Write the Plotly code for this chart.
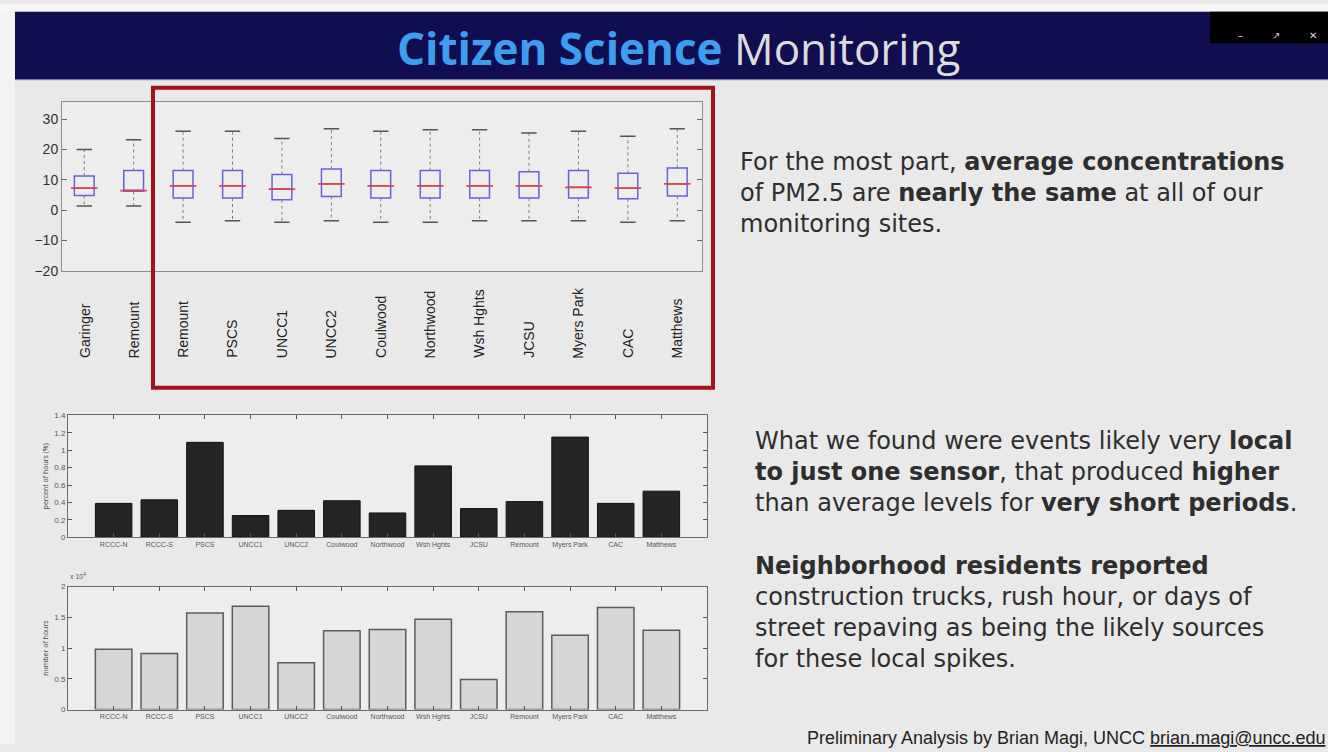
import plotly.graph_objects as go

W, H = 1328, 752

# ---------------- data ----------------
box_sites = ["Garinger", "Remount", "Remount", "PSCS", "UNCC1", "UNCC2", "Coulwood",
             "Northwood", "Wsh Hghts", "JCSU", "Myers Park", "CAC", "Matthews"]
box_upper = [20.0, 23.2, 26.0, 26.0, 23.6, 26.8, 26.0, 26.5, 26.5, 25.4, 26.0, 24.3, 26.8]
box_q3 = [11.2, 13.0, 13.0, 13.0, 11.7, 13.5, 13.0, 13.0, 13.0, 12.6, 13.0, 12.1, 13.9]
box_median = [7.2, 6.4, 8.0, 8.0, 6.9, 8.6, 8.0, 8.0, 8.0, 8.0, 7.5, 7.2, 8.6]
box_q1 = [4.8, 6.2, 4.0, 4.0, 3.4, 4.5, 4.0, 4.0, 4.0, 4.0, 4.0, 3.7, 4.6]
box_lower = [1.3, 1.3, -4.0, -3.5, -4.0, -3.5, -4.0, -4.0, -3.5, -3.5, -3.5, -4.0, -3.5]
box_yticks = [-20, -10, 0, 10, 20, 30]

bar_sites = ["RCCC-N", "RCCC-S", "PSCS", "UNCC1", "UNCC2", "Coulwood", "Northwood",
             "Wsh Hghts", "JCSU", "Remount", "Myers Park", "CAC", "Matthews"]
pct_hours = [0.39, 0.43, 1.09, 0.25, 0.31, 0.42, 0.28, 0.82, 0.33, 0.41, 1.15, 0.39, 0.53]
num_hours_e4 = [0.98, 0.91, 1.57, 1.68, 0.76, 1.28, 1.30, 1.47, 0.49, 1.59, 1.21, 1.66, 1.29]

title_bold = "Citizen Science"
title_rest = "Monitoring"
text_top = ("For the most part, <b>average concentrations</b><br>"
            "of PM2.5 are <b>nearly the same</b> at all of our<br>"
            "monitoring sites.")
text_bottom = ("What we found were events likely very <b>local</b><br>"
               "<b>to just one sensor</b>, that produced <b>higher</b><br>"
               "than average levels for <b>very short periods</b>.<br><br>"
               "<b>Neighborhood residents reported</b><br>"
               "construction trucks, rush hour, or days of<br>"
               "street repaving as being the likely sources<br>"
               "for these local spikes.")
footer = "Preliminary Analysis by Brian Magi, UNCC <u>brian.magi@uncc.edu</u>"


def px_x(p):
    return p / W


def px_y(p):
    return 1 - p / H


fig = go.Figure()

# ---------------- box plot ----------------
bidx = list(range(len(box_sites)))
wx, wy = [], []
for i in bidx:
    wx += [i, i, None, i, i, None]
    wy += [box_q3[i], box_upper[i], None, box_q1[i], box_lower[i], None]
fig.add_trace(go.Scatter(x=wx, y=wy, mode="lines", xaxis="x", yaxis="y",
                         line=dict(color="#7c7c7c", width=1, dash="dot"), hoverinfo="skip"))
fig.add_trace(go.Scatter(x=bidx + bidx, y=box_upper + box_lower, mode="markers", xaxis="x", yaxis="y",
                         marker=dict(symbol="line-ew", size=11, color="#555",
                                     line=dict(color="#555", width=1.5)), hoverinfo="skip"))
fig.add_trace(go.Box(x=bidx, q1=box_q1, median=box_median, q3=box_q3,
                     lowerfence=box_q1, upperfence=box_q3, width=0.4, whiskerwidth=0,
                     line=dict(color="#6464d8", width=1.5), fillcolor="rgba(0,0,0,0)",
                     xaxis="x", yaxis="y", hoverinfo="skip"))
fig.add_trace(go.Scatter(x=bidx, y=box_median, mode="markers", xaxis="x", yaxis="y",
                         marker=dict(symbol="line-ew", size=19, color="#e04444",
                                     line=dict(color="#e04444", width=1.8)), hoverinfo="skip"))

# ---------------- bar charts ----------------
ridx = list(range(len(bar_sites)))
fig.add_trace(go.Bar(x=ridx, y=pct_hours, width=0.8, xaxis="x2", yaxis="y2",
                     marker=dict(color="#242424", line=dict(color="#111", width=1))))
fig.add_trace(go.Bar(x=ridx, y=num_hours_e4, width=0.8, xaxis="x3", yaxis="y3",
                     marker=dict(color="#d6d6d6", line=dict(color="#5c5c5c", width=1.5))))

small_axis = dict(showline=True, mirror="ticks", linecolor="#6a6a6a", linewidth=1,
                  ticks="inside", ticklen=4, tickcolor="#555", showgrid=False, zeroline=False,
                  tickfont=dict(family="Liberation Sans", size=7, color="#555"))
small_y = {k: v for k, v in small_axis.items() if k != "tickfont"}

fig.update_layout(
    width=W, height=H, margin=dict(l=0, r=0, t=0, b=0),
    paper_bgcolor="#e9e9e9", plot_bgcolor="#ededed", showlegend=False,
    xaxis=dict(domain=[px_x(62), px_x(702)], range=[-0.45, 12.5], anchor="y",
               showticklabels=False, ticks="", showline=True, mirror=True,
               linecolor="#8c8c8c", showgrid=False, zeroline=False),
    yaxis=dict(domain=[px_y(271), px_y(100)], range=[-20, 35.5], anchor="x",
               tickvals=box_yticks, ticks="inside", ticklen=5, tickcolor="#666",
               showline=True, mirror="ticks", linecolor="#8c8c8c", showgrid=False, zeroline=False,
               tickfont=dict(family="Liberation Sans", size=14, color="#333")),
    xaxis2=dict(domain=[px_x(68), px_x(707)], range=[-1, 13], anchor="y2",
                tickvals=ridx, ticktext=bar_sites, **small_axis),
    yaxis2=dict(domain=[px_y(542), px_y(418)], range=[0, 1.4], dtick=0.2, anchor="x2",
                title=dict(text="percent of hours (%)", font=dict(size=7, color="#444"), standoff=4),
                tickfont=dict(family="Liberation Sans", size=8, color="#555"), **small_y),
    xaxis3=dict(domain=[px_x(68), px_x(707)], range=[-1, 13], anchor="y3",
                tickvals=ridx, ticktext=bar_sites, **small_axis),
    yaxis3=dict(domain=[px_y(717), px_y(592)], range=[0, 2], dtick=0.5, anchor="x3",
                title=dict(text="number of hours", font=dict(size=7, color="#444"), standoff=4),
                tickfont=dict(family="Liberation Sans", size=8, color="#555"), **small_y),
)

shapes = [
    dict(type="rect", xref="paper", yref="paper", x0=0, x1=1, y0=px_y(8), y1=1,
         fillcolor="#f6f6f6", line=dict(width=0), layer="below"),
    dict(type="rect", xref="paper", yref="paper", x0=0, x1=px_x(15), y0=0, y1=px_y(8),
         fillcolor="#f3f3f3", line=dict(width=0), layer="below"),
    dict(type="rect", xref="paper", yref="paper", x0=px_x(15), x1=1, y0=px_y(77), y1=px_y(8),
         fillcolor="#100d50", line=dict(width=0), layer="below"),
    dict(type="line", xref="paper", yref="paper", x0=px_x(15), x1=1, y0=px_y(77), y1=px_y(77),
         line=dict(color="#8f8fb8", width=1), layer="below"),
    dict(type="rect", xref="paper", yref="paper", x0=px_x(1210), x1=1, y0=px_y(40), y1=px_y(8),
         fillcolor="#000000", line=dict(width=0), layer="above"),
    dict(type="rect", xref="paper", yref="paper", x0=px_x(153), x1=px_x(713), y0=px_y(390), y1=px_y(85),
         fillcolor="rgba(0,0,0,0)", line=dict(color="#a3121c", width=4), layer="above"),
]
fig.update_layout(shapes=shapes)

ann = []
ann.append(dict(xref="paper", yref="paper", x=px_x(678), y=px_y(45), xanchor="center", yanchor="middle",
                showarrow=False,
                text=f'<span style="color:#3d9ef0"><b>{title_bold}</b></span> '
                     f'<span style="color:#dcdcdc">{title_rest}</span>',
                font=dict(family="Open Sans", size=44)))
for k, g in enumerate(["\u2013", "\u2197", "\u2715"]):
    ann.append(dict(xref="paper", yref="paper", x=px_x(1245 + 37 * k), y=px_y(24), showarrow=False,
                    text=g, font=dict(family="DejaVu Sans", size=10, color="#dddddd")))
for i, s in enumerate(box_sites):
    ann.append(dict(xref="x", yref="paper", x=i, y=px_y(362), xanchor="center", yanchor="bottom",
                    textangle=-90, showarrow=False, text=s,
                    font=dict(family="Liberation Sans", size=14, color="#222")))
ann.append(dict(xref="paper", yref="paper", x=px_x(738), y=px_y(144), xanchor="left", yanchor="top",
                align="left", showarrow=False, text=text_top,
                font=dict(family="DejaVu Sans", size=24, color="#2e2e2e")))
ann.append(dict(xref="paper", yref="paper", x=px_x(753), y=px_y(428), xanchor="left", yanchor="top",
                align="left", showarrow=False, text=text_bottom,
                font=dict(family="DejaVu Sans", size=24, color="#2e2e2e")))
ann.append(dict(xref="paper", yref="paper", x=px_x(805), y=px_y(746), xanchor="left", yanchor="middle",
                align="left", showarrow=False, text=footer,
                font=dict(family="Liberation Sans", size=18, color="#222")))
ann.append(dict(xref="paper", yref="paper", x=px_x(68), y=px_y(587), xanchor="left", yanchor="bottom",
                showarrow=False, text="x 10<sup>4</sup>",
                font=dict(family="Liberation Sans", size=7, color="#555")))
fig.update_layout(annotations=ann)

fig.write_html("out.html", config={"displayModeBar": False},
               post_script="document.body.style.margin='0';document.body.style.overflow='hidden';")
